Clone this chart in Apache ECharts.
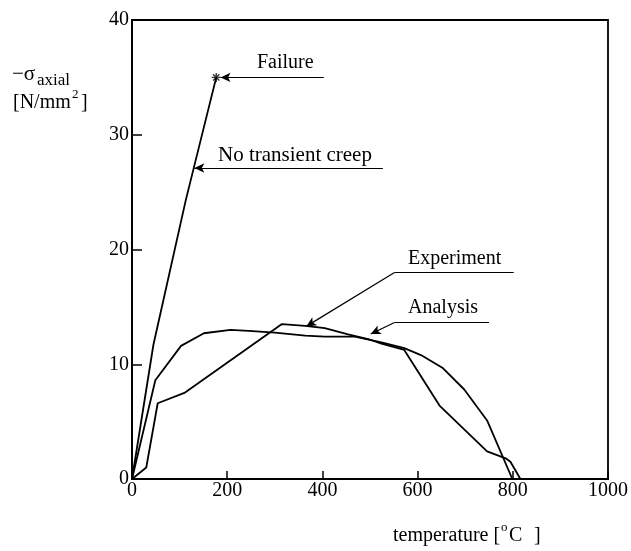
<!DOCTYPE html>
<html>
<head>
<meta charset="utf-8">
<script src="https://cdn.jsdelivr.net/npm/echarts@6/dist/echarts.min.js"></script>
<style>
  html, body { margin: 0; padding: 0; background: #fff; }
  #main { width: 631px; height: 551px; }
</style>
</head>
<body>
<div id="main"></div>
<script>
// data (temperature in oC, stress in N/mm2)
var expTemp = [0, 30, 54, 110, 315, 364, 405, 454, 496, 524, 572, 646, 746, 785, 795, 816];
var expStress = [0, 1.0, 6.6, 7.5, 13.5, 13.35, 13.15, 12.6, 12.2, 11.8, 11.25, 6.4, 2.4, 1.8, 1.5, 0];

var anaTemp = [0, 49, 103, 151, 207, 245, 300, 364, 405, 468, 524, 572, 607, 652, 698, 746, 799];
var anaStress = [0, 8.6, 11.6, 12.7, 13.0, 12.9, 12.75, 12.5, 12.4, 12.4, 11.9, 11.4, 10.8, 9.7, 7.8, 5.1, 0];

var ntcTemp = [0, 45, 113, 177];
var ntcStress = [0, 11.7, 24.3, 35.0];

var failurePoint = [177, 35.0];

var xTicks = [0, 200, 400, 600, 800, 1000];
var yTicks = [0, 10, 20, 30, 40];

// leader lines for the labels
var failureLeader = [[403, 35], [186, 35]];
var ntcLeader = [[527, 27.1], [131, 27.1]];
var expLeader = [[802, 18], [551.5, 18], [366, 13.3]];
var anaLeader = [[750, 13.64], [551.5, 13.64], [501.5, 12.63]];

function pairs(xs, ys) {
	var out = [];
	for (var i = 0; i < xs.length; i++) {
		out.push([xs[i], ys[i]]);
	}
	return out;
}

function leader(pts) {
	var segs = [];
	for (var i = 0; i < pts.length - 1; i++) {
		var last = (i == pts.length - 2);
		segs.push([
			{ coord: pts[i], symbol: 'none' },
			{ coord: pts[i + 1], symbol: last ? 'arrow' : 'none' }
		]);
	}
	return segs;
}

var FONT = 'Liberation Serif';
var lineStyle = { color: '#000', width: 1.8 };

var chart = echarts.init(document.getElementById('main'));

chart.setOption({
	animation: false,
	backgroundColor: '#fff',
	grid: {
		left: 132, right: 19, top: 20, bottom: 72,
		show: true, borderColor: '#000', borderWidth: 1.8
	},
	xAxis: {
		type: 'value',
		min: xTicks[0], max: xTicks[xTicks.length - 1], interval: 200,
		axisLine: { lineStyle: { color: '#000', width: 1.8 } },
		axisTick: { inside: true, length: 8, lineStyle: { color: '#000', width: 1.5 } },
		axisLabel: {
			color: '#000', fontFamily: FONT, fontSize: 20, margin: 2,
			formatter: function (v) { return String(v); }
		},
		splitLine: { show: false }
	},
	yAxis: {
		type: 'value',
		min: yTicks[0], max: yTicks[yTicks.length - 1], interval: 10,
		axisLine: { lineStyle: { color: '#000', width: 1.8 } },
		axisTick: { inside: true, length: 10, lineStyle: { color: '#000', width: 1.5 } },
		axisLabel: { color: '#000', fontFamily: FONT, fontSize: 20, margin: 3 },
		splitLine: { show: false }
	},
	series: [
		{
			name: 'Experiment', type: 'line', data: pairs(expTemp, expStress),
			showSymbol: false, lineStyle: lineStyle, silent: true,
			markLine: {
				silent: true, symbolSize: [7, 10],
				lineStyle: { color: '#000', width: 1.2, type: 'solid' },
				label: { show: false },
				data: leader(expLeader)
			}
		},
		{
			name: 'Analysis', type: 'line', data: pairs(anaTemp, anaStress),
			showSymbol: false, lineStyle: lineStyle, silent: true,
			markLine: {
				silent: true, symbolSize: [7, 10],
				lineStyle: { color: '#000', width: 1.2, type: 'solid' },
				label: { show: false },
				data: leader(anaLeader)
			}
		},
		{
			name: 'No transient creep', type: 'line', data: pairs(ntcTemp, ntcStress),
			showSymbol: false, lineStyle: lineStyle, silent: true,
			markLine: {
				silent: true, symbolSize: [7, 10],
				lineStyle: { color: '#000', width: 1.2, type: 'solid' },
				label: { show: false },
				data: leader(failureLeader).concat(leader(ntcLeader))
			}
		},
		{
			name: 'Failure', type: 'scatter', data: [failurePoint], silent: true,
			symbol: 'path://M5 0 L5 10 M0 5 L10 5 M1.5 1.5 L8.5 8.5 M8.5 1.5 L1.5 8.5',
			symbolSize: 9,
			itemStyle: { color: 'none', borderColor: '#000', borderWidth: 1.3 }
		}
	],
	graphic: [
		{ type: 'text', left: 257, top: 53, style: { text: 'Failure', font: '20px ' + FONT, fill: '#000' } },
		{ type: 'text', left: 218, top: 145, style: { text: 'No transient creep', font: '21px ' + FONT, fill: '#000' } },
		{ type: 'text', left: 408, top: 249, style: { text: 'Experiment', font: '20px ' + FONT, fill: '#000' } },
		{ type: 'text', left: 408, top: 298, style: { text: 'Analysis', font: '20px ' + FONT, fill: '#000' } },
		// y axis name
		{ type: 'text', left: 12, top: 64, style: { text: '\u2212\u03c3', font: '21px ' + FONT, fill: '#000' } },
		{ type: 'text', left: 37, top: 72, style: { text: 'axial', font: '17px ' + FONT, fill: '#000' } },
		{ type: 'text', left: 13, top: 93, style: { text: '[N/mm', font: '20px ' + FONT, fill: '#000' } },
		{ type: 'text', left: 72, top: 88, style: { text: '2', font: '13px ' + FONT, fill: '#000' } },
		{ type: 'text', left: 81, top: 93, style: { text: ']', font: '20px ' + FONT, fill: '#000' } },
		// x axis name
		{ type: 'text', left: 393, top: 526, style: { text: 'temperature [', font: '20px ' + FONT, fill: '#000' } },
		{ type: 'text', left: 501, top: 521, style: { text: 'o', font: '13px ' + FONT, fill: '#000' } },
		{ type: 'text', left: 509, top: 526, style: { text: 'C', font: '20px ' + FONT, fill: '#000' } },
		{ type: 'text', left: 534, top: 526, style: { text: ']', font: '20px ' + FONT, fill: '#000' } }
	]
});
</script>
</body>
</html>
